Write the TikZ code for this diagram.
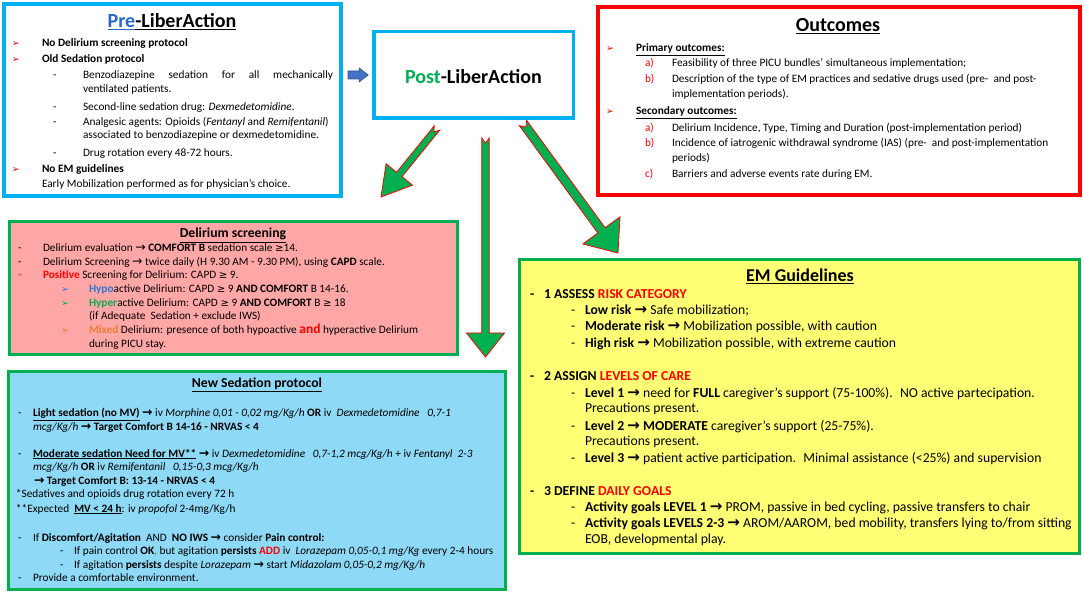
\documentclass[tikz,border=0pt]{standalone}
\usepackage{fontspec}
\setmainfont{Carlito}
\newfontfamily\symf{DejaVu Sans}[Scale=0.9]
\newfontfamily\arrf{DejaVu Sans}[Scale=1.1]
\usetikzlibrary{calc}
\definecolor{cyanb}{RGB}{0,176,240}
\definecolor{preblue}{RGB}{40,105,200}
\definecolor{gr}{RGB}{0,176,80}
\definecolor{pinkf}{RGB}{255,166,166}
\definecolor{bluef}{RGB}{142,217,245}
\definecolor{yelf}{RGB}{255,255,117}
\definecolor{hypo}{RGB}{46,117,210}
\definecolor{orng}{RGB}{237,125,49}
\definecolor{arrblue}{RGB}{68,114,196}
\definecolor{arrbluedark}{RGB}{47,82,143}
\newcommand\fsa{\fontsize{11.3}{13.8}\selectfont}
\newcommand\fsem{\fontsize{13.7}{16}\selectfont}
\newcommand\arr{{\arrf →}}
\newcommand\gee{{\symf ≥}}
\newcommand\blockarrow[7]{%
  \coordinate (#1-b) at ($(#2)!#5!(#1)$);
  \path[#7] ($(#1)!#3!90:(#2)$) -- ($(#1-b)!#3!90:(#2)$) -- ($(#1-b)!#4!90:(#2)$) -- (#2)
    -- ($(#1-b)!#4!-90:(#2)$) -- ($(#1-b)!#3!-90:(#2)$) -- ($(#1)!#3!-90:(#2)$)
    -- ($(#1)!#6!(#2)$) -- cycle;}
\tikzset{
 bx/.style={inner sep=0pt, outer sep=0pt},
 txt/.style={inner sep=0pt, outer sep=0pt, anchor=base west, font=\fsa},
 emt/.style={txt, font=\fsem},
 ttl/.style={inner sep=0pt, outer sep=0pt, anchor=base, font=\fontsize{20}{24}\selectfont\bfseries},
 sttl/.style={inner sep=0pt, outer sep=0pt, anchor=base, font=\fontsize{13.7}{16}\selectfont\bfseries},
 mkr/.style={inner sep=0pt, outer sep=0pt, anchor=base west, font=\symf\fontsize{10.5}{12}\selectfont},
 bigarr/.style={fill=gr, draw=red, line width=0.8pt, line join=miter},
 smallarr/.style={fill=arrblue, draw=arrbluedark, line width=0.6pt, line join=miter},
}
\begin{document}
\begin{tikzpicture}[x=1pt,y=-1pt]
\useasboundingbox (0,0) rectangle (1084,593);
% boxes
\node[bx, draw=cyanb, line width=3.5pt, minimum width=337pt, minimum height=192pt] (pre) at (172.5,100) {};
\node[bx, draw=cyanb, line width=3.5pt, minimum width=199.5pt, minimum height=86.5pt] (post) at (473.5,75) {};
\node[bx, draw=red, line width=4pt, minimum width=482pt, minimum height=188pt] (out) at (839,101) {};
\node[bx, draw=gr, fill=pinkf, line width=3pt, minimum width=448pt, minimum height=133pt] (del) at (233.5,288) {};
\node[bx, draw=gr, fill=bluef, line width=3pt, minimum width=497pt, minimum height=218pt] (sed) at (257,480.5) {};
\node[bx, draw=gr, fill=yelf, line width=3pt, minimum width=560pt, minimum height=294pt] (em) at (799.5,406.5) {};
% connectors
\coordinate (ba1) at ($(pre.east |- post.west)+(7,0)$);
\coordinate (ba2) at ($(post.west)+(-5.5,0)$);
\blockarrow{ba1}{ba2}{4pt}{7pt}{9pt}{0pt}{smallarr}
\coordinate (a1s) at (437,128);
\coordinate (a1t) at (381,197);
\coordinate (a2s) at (485.5,138);
\coordinate (a2t) at (485.5,357);
\coordinate (a3s) at (523,123);
\coordinate (a3t) at (618,253);
\blockarrow{a1s}{a1t}{3.5pt}{17pt}{29pt}{5pt}{bigarr}
\blockarrow{a2s}{a2t}{3.8pt}{19pt}{24pt}{5pt}{bigarr}
\blockarrow{a3s}{a3t}{4.5pt}{23pt}{28pt}{5pt}{bigarr}
% Pre
\node[ttl] (preT) at (172,28) {\textcolor{preblue}{\underline{Pre}}\underline{-LiberAction}};
\node[mkr, text=red] (pm1) at (12,47) {➢};
\node[txt] (p1) at (42,47) {\textbf{No Delirium screening protocol}};
\node[mkr, text=red] (pm2) at (12,63) {➢};
\node[txt] (p2) at (42,63) {\textbf{Old Sedation protocol}};
\node[txt] (pd1) at (53,79) {-};
\node[txt] (p3) at (83,79) {\makebox[250pt][s]{Benzodiazepine sedation for all mechanically}};
\node[txt] (p3b) at (83,93) {ventilated patients.};
\node[txt] (pd2) at (53,111) {-};
\node[txt] (p4) at (83,111) {Second-line sedation drug: \textit{Dexmedetomidine}.};
\node[txt] (pd3) at (53,126) {-};
\node[txt] (p5) at (83,126) {Analgesic agents: Opioids (\textit{Fentanyl} and \textit{Remifentanil})};
\node[txt] (p5b) at (83,139) {associated to benzodiazepine or dexmedetomidine.};
\node[txt] (pd4) at (53,157) {-};
\node[txt] (p6) at (83,157) {Drug rotation every 48-72 hours.};
\node[mkr, text=red] (pm3) at (12,173) {➢};
\node[txt] (p7) at (42,173) {\textbf{No EM guidelines}};
\node[txt] (p8) at (42,188) {Early Mobilization performed as for physician’s choice.};
% Post
\node[ttl] (postT) at (post.center |- 0,84) {\textcolor{gr}{Post}-LiberAction};
% Outcomes
\node[ttl] (outT) at (838,32) {\underline{Outcomes}};
\node[mkr, text=red] (om1) at (606,52) {➢};
\node[txt] (o1) at (636,52) {\textbf{\underline{Primary outcomes:}}};
\node[txt, text=red] (oa1) at (645,67) {a)};
\node[txt] (o2) at (672,67) {Feasibility of three PICU bundles’ simultaneous implementation;};
\node[txt, text=red] (ob1) at (645,83) {b)};
\node[txt] (o3) at (672,83) {Description of the type of EM practices and sedative drugs used (pre-~ and post-};
\node[txt] (o3b) at (672,98) {implementation periods).};
\node[mkr, text=red] (om2) at (606,115) {➢};
\node[txt] (o4) at (636,115) {\textbf{\underline{Secondary outcomes:}}};
\node[txt, text=red] (oa2) at (645,132) {a)};
\node[txt] (o5) at (672,132) {Delirium Incidence, Type, Timing and Duration (post-implementation period)};
\node[txt, text=red] (ob2) at (645,147) {b)};
\node[txt] (o6) at (672,147) {Incidence of iatrogenic withdrawal syndrome (IAS) (pre-~ and post-implementation};
\node[txt] (o6b) at (672,162) {periods)};
\node[txt, text=red] (oc2) at (645,178) {c)};
\node[txt] (o7) at (672,178) {Barriers and adverse events rate during EM.};
% Delirium
\node[sttl] (delT) at (233,238) {\underline{Delirium screening}};
\node[txt] (dd1) at (18,252) {-};
\node[txt] (d1) at (43,252) {Delirium evaluation \arr{} \textbf{COMFORT B} sedation scale \gee14.};
\node[txt] (dd2) at (18,266) {-};
\node[txt] (d2) at (43,266) {Delirium Screening \arr{} twice daily (H 9.30 AM - 9.30 PM), using \textbf{CAPD} scale.};
\node[txt, text=red] (dd3) at (18,279) {-};
\node[txt] (d3) at (43,279) {\textcolor{red}{\textbf{Positive}} Screening for Delirium: CAPD \gee{} 9.};
\node[mkr, text=hypo] (dm1) at (61,293) {➢};
\node[txt] (d4) at (89,293) {\textcolor{hypo}{\textbf{Hypo}}active Delirium: CAPD \gee{} 9 \textbf{AND COMFORT} B 14-16.};
\node[mkr, text=gr] (dm2) at (61,307) {➢};
\node[txt] (d5) at (89,307) {\textcolor{gr}{\textbf{Hyper}}active Delirium: CAPD \gee{} 9 \textbf{AND COMFORT} B \gee{} 18};
\node[txt] (d5b) at (89,320) {(if Adequate~ Sedation + exclude IWS)};
\node[mkr, text=orng] (dm3) at (61,334) {➢};
\node[txt] (d6) at (89,334) {\textcolor{orng}{\textbf{Mixed}} Delirium: presence of both hypoactive \textcolor{red}{\textbf{\fontsize{13.5}{14}\selectfont and}} hyperactive Delirium};
\node[txt] (d6b) at (89,348) {during PICU stay.};
% Sedation
\node[sttl] (sedT) at (257,388) {\underline{New Sedation protocol}};
\node[txt] (sd1) at (18,417) {-};
\node[txt] (s1) at (33,417) {\textbf{\underline{Light sedation (no MV)} \arr} iv \textit{Morphine 0,01 - 0,02 mg/Kg/h} \textbf{OR} iv~ \textit{Dexmedetomidine~~ 0,7-1}};
\node[txt] (s1b) at (33,430) {\textit{mcg/Kg/h} \textbf{\arr{} Target Comfort B 14-16 - NRVAS < 4}};
\node[txt] (sd2) at (18,457) {-};
\node[txt] (s2) at (33,457) {\textbf{\underline{Moderate sedation Need for MV**} \arr} iv \textit{Dexmedetomidine~~ 0,7-1,2 mcg/Kg/h} + iv \textit{Fentanyl~ 2-3}};
\node[txt] (s2b) at (33,470) {\textit{mcg/Kg/h} \textbf{OR} iv \textit{Remifentanil~~ 0,15-0,3 mcg/Kg/h}};
\node[txt] (s2c) at (34,484) {\textbf{\arr{} Target Comfort B: 13-14 - NRVAS < 4}};
\node[txt] (s3) at (16,497) {*Sedatives and opioids drug rotation every 72 h};
\node[txt] (s4) at (16,512) {**Expected~ \textbf{\underline{MV < 24 h}}: iv \textit{propofol} 2-4mg/Kg/h};
\node[txt] (sd5) at (18,541) {-};
\node[txt] (s5) at (33,541) {If \textbf{Discomfort/Agitation}~ AND~ \textbf{NO IWS \arr} consider \textbf{Pain control:}};
\node[txt] (sd6) at (60,554) {-};
\node[txt] (s6) at (74,554) {If pain control \textbf{OK}\textcolor{gr}{,} but agitation \textbf{persists} \textcolor{red}{\textbf{ADD}} iv~ \textit{Lorazepam 0,05-0,1 mg/Kg} every 2-4 hours};
\node[txt] (sd7) at (60,568) {-};
\node[txt] (s7) at (74,568) {If agitation \textbf{persists} despite \textit{Lorazepam} \textbf{\arr} start \textit{Midazolam 0,05-0,2 mg/Kg/h}};
\node[txt] (sd8) at (18,581) {-};
\node[txt] (s8) at (33,581) {Provide a comfortable environment.};
% EM
\node[ttl, font=\fontsize{18}{22}\selectfont\bfseries] (emT) at (800,282) {\underline{EM Guidelines}};
\node[emt] (ed1) at (530,299) {\textbf{-}};
\node[emt] (e1) at (544,299) {\textbf{1 ASSESS \textcolor{red}{RISK CATEGORY}}};
\node[emt] (ed2) at (571,315) {-};
\node[emt] (e2) at (585,315) {\textbf{Low risk \arr} Safe mobilization;};
\node[emt] (ed3) at (571,331) {-};
\node[emt] (e3) at (585,331) {\textbf{Moderate risk \arr} Mobilization possible, with caution};
\node[emt] (ed4) at (571,348) {-};
\node[emt] (e4) at (585,348) {\textbf{High risk \arr} Mobilization possible, with extreme caution};
\node[emt] (ed5) at (530,381) {\textbf{-}};
\node[emt] (e5) at (544,381) {\textbf{2 ASSIGN \textcolor{red}{LEVELS OF CARE}}};
\node[emt] (ed6) at (571,397) {-};
\node[emt] (e6) at (585,397) {\textbf{Level 1 \arr} need for \textbf{FULL} caregiver’s support (75-100\%).~ NO active partecipation.};
\node[emt] (e6b) at (585,412) {Precautions present.};
\node[emt] (ed7) at (571,430) {-};
\node[emt] (e7) at (585,430) {\textbf{Level 2 \arr{} MODERATE} caregiver’s support (25-75\%).};
\node[emt] (e7b) at (585,445) {Precautions present.};
\node[emt] (ed8) at (571,462) {-};
\node[emt] (e8) at (585,462) {\textbf{Level 3 \arr} patient active participation.~ Minimal assistance (<25\%) and supervision};
\node[emt] (ed9) at (530,495) {\textbf{-}};
\node[emt] (e9) at (544,495) {\textbf{3 DEFINE \textcolor{red}{DAILY GOALS}}};
\node[emt] (ed10) at (571,511) {-};
\node[emt] (e10) at (585,511) {\textbf{Activity goals LEVEL 1 \arr} PROM, passive in bed cycling, passive transfers to chair};
\node[emt] (ed11) at (571,527) {-};
\node[emt] (e11) at (585,527) {\textbf{Activity goals LEVELS 2-3 \arr} AROM/AAROM, bed mobility, transfers lying to/from sitting};
\node[emt] (e11b) at (585,543) {EOB, developmental play.};
\end{tikzpicture}
\end{document}
